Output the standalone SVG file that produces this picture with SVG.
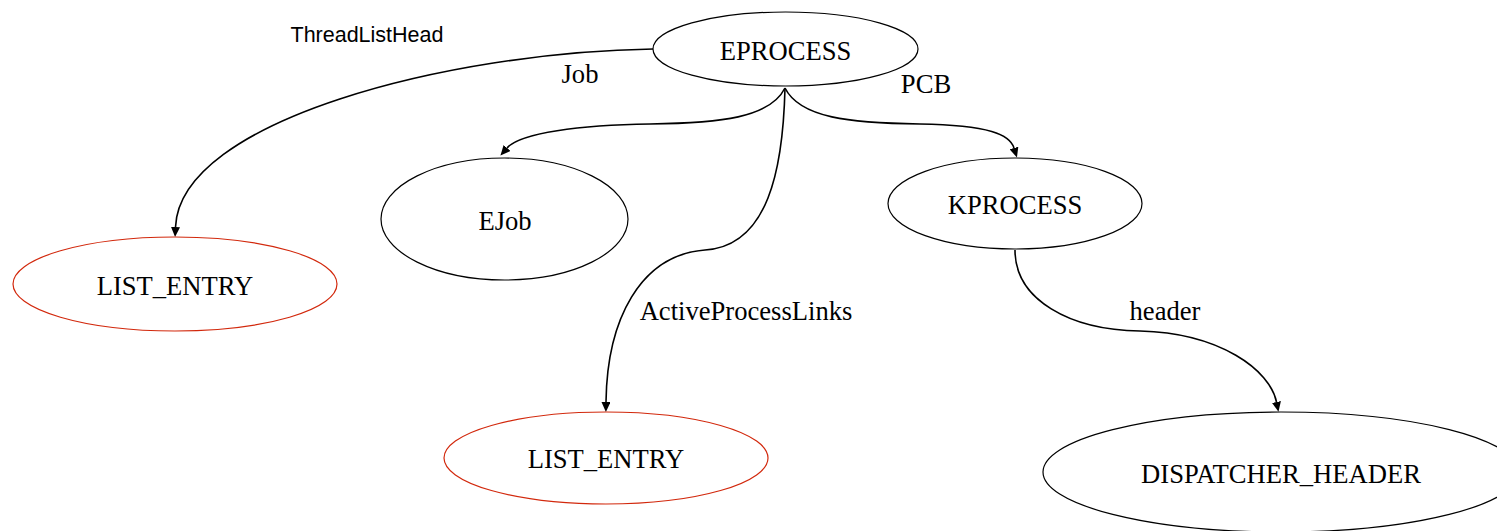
<svg xmlns="http://www.w3.org/2000/svg" width="1497" height="531" viewBox="0 0 1497 531">
  <style>
    .node { fill: #ffffff; stroke: #000000; stroke-width: 1.2; }
    .list { stroke: #d2280c; }
    .lbl { font-family: "Liberation Serif", "Times New Roman", serif; font-size: 26.6px; fill: #000000; text-anchor: middle; }
    .sans { font-family: "Liberation Sans", Arial, sans-serif; font-size: 21.5px; }
    .edge { fill: none; stroke: #000000; stroke-width: 1.6; marker-end: url(#arrow); }
  </style>
  <defs>
    <marker id="arrow" viewBox="0 0 10 9" refX="0" refY="4.5" markerWidth="10" markerHeight="9" markerUnits="userSpaceOnUse" orient="auto">
      <path d="M0,0 L10,4.5 L0,9 Z" fill="#000000"/>
    </marker>
  </defs>
  <rect width="1497" height="531" fill="#ffffff"/>

  <g id="connectors">
    <path class="edge" d="M653,49 C450,52 180,120 175.5,227"/>
    <path class="edge" d="M785,88 C770,118 720,123 650,124 C580,125 520,133 507,148"/>
    <path class="edge" d="M785,88 C783,170 768,246 705,250 C640,255 607,320 606,402"/>
    <path class="edge" d="M785,88 C800,118 850,123 920,124 C990,125 1010,135 1014,148"/>
    <path class="edge" d="M1015,250 C1015,300 1070,330 1140,331 C1220,333 1270,370 1276.5,402"/>
    <text class="lbl sans" x="367" y="42">ThreadListHead</text>
    <text class="lbl" x="580" y="83">Job</text>
    <text class="lbl" x="926" y="93">PCB</text>
    <text class="lbl" x="746" y="320">ActiveProcessLinks</text>
    <text class="lbl" x="1165" y="320">header</text>
  </g>

  <g id="eprocess">
    <ellipse class="node" cx="785.5" cy="49" rx="132.5" ry="37"/>
    <text class="lbl" x="785.5" y="60">EPROCESS</text>
  </g>
  <g id="list_entry_thread">
    <ellipse class="node list" cx="175" cy="284" rx="162" ry="47"/>
    <text class="lbl" x="175" y="295">LIST_ENTRY</text>
  </g>
  <g id="ejob">
    <ellipse class="node" cx="504.5" cy="219" rx="123.5" ry="61"/>
    <text class="lbl" x="505" y="230">EJob</text>
  </g>
  <g id="kprocess">
    <ellipse class="node" cx="1015" cy="203.5" rx="127" ry="45.5"/>
    <text class="lbl" x="1015" y="214">KPROCESS</text>
  </g>
  <g id="list_entry_active">
    <ellipse class="node list" cx="606" cy="458" rx="162" ry="46"/>
    <text class="lbl" x="606" y="468">LIST_ENTRY</text>
  </g>
  <g id="dispatcher_header">
    <ellipse class="node" cx="1281" cy="472" rx="238" ry="60"/>
    <text class="lbl" x="1281" y="483">DISPATCHER_HEADER</text>
  </g>
</svg>
